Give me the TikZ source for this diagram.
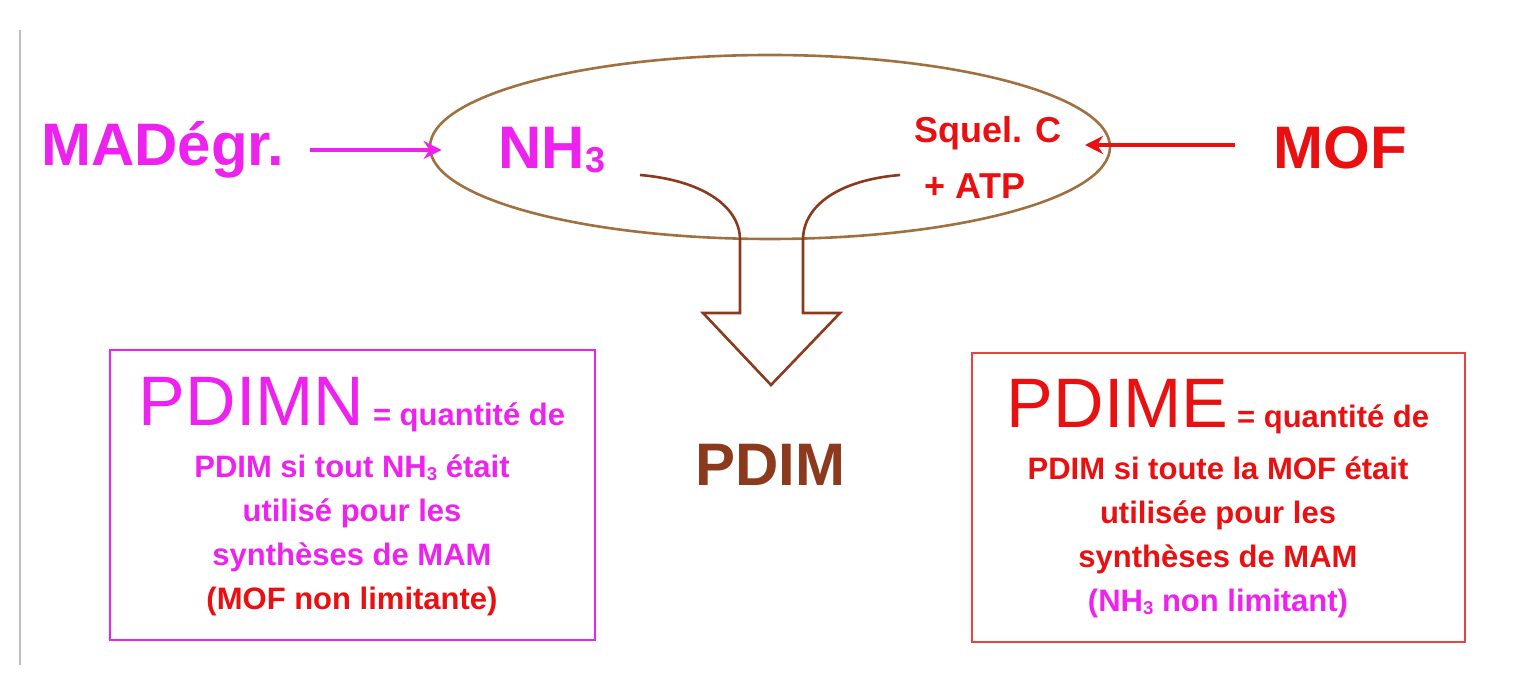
\documentclass[tikz,border=0pt]{standalone}
\usepackage{fontspec}
\setmainfont{Liberation Sans}
\usetikzlibrary{positioning,shapes.geometric,arrows.meta}
\definecolor{mag}{HTML}{EE22EE}
\definecolor{rouge}{HTML}{E81010}
\definecolor{brun}{HTML}{8B3A1E}
\definecolor{ovale}{HTML}{A07040}
\newcommand{\ind}[1]{\raisebox{-0.15ex}{\scalebox{0.6}{#1}}}
\tikzset{
  big/.style={font=\bfseries\fontsize{30}{33}\selectfont},
  mid/.style={font=\bfseries\fontsize{18}{20}\selectfont},
  boxtxt/.style={align=center,font=\bfseries\fontsize{15.5}{22}\selectfont},
  flow/.style={line width=1.6pt,-{Stealth[length=9pt,width=9pt]}}
}
\begin{document}
\begin{tikzpicture}[x=0.5pt,y=-0.5pt]
  \useasboundingbox (0,0) rectangle (1522,694);
  \draw[gray!50,line width=0.8pt] (20,30) -- (20,665);
  %ellipse
  \node[ellipse,draw=ovale,line width=1.3pt,minimum width=340pt,minimum height=92pt] (cell) at (770,147) {};
  \node[big,mag] (madeg) at (163,150) {MADégr.};
  \node[big,mag] (nh) at (552,150) {NH\ind{3}};
  \node[mid,rouge] (squel) at (988,133) {Squel. C};
  \node[mid,rouge] (atp) at (975,186) {+ ATP};
  \node[big,rouge] (mof) at (1340,148) {MOF};
  \draw[flow,mag] (madeg.east) ++(18,0) -- ([xshift=-25]nh.west);
  \draw[flow,rouge] (1235,145) -- (1085,145);
  %big arrow
  \draw[brun,line width=1.3pt,line join=miter]
    (640,175) .. controls (700,180) and (740,205) .. (740,240)
    -- (740,313) -- (703,313) -- (771,385) -- (840,313) -- (803,313) -- (803,240)
    .. controls (803,205) and (840,180) .. (900,175);
  \node[big,brun] (pdim) at (770,465) {PDIM};
  %boxes
  \draw[mag,line width=1pt] (110,350) rectangle (595,640);
  \node[boxtxt,mag] (pdimn) at (352,497) {{\fontsize{35}{38}\selectfont\mdseries PDIMN} = quantité de\\[4pt]
    PDIM si tout NH\ind{3} était\\ utilisé pour les\\ synthèses de MAM\\
    \textcolor{rouge}{(MOF non limitante)}};
  \draw[rouge!80,line width=1pt] (972,353) rectangle (1465,642);
  \node[boxtxt,rouge] (pdime) at (1218,499) {{\fontsize{35}{38}\selectfont\mdseries PDIME} = quantité de\\[4pt]
    PDIM si toute la MOF était\\ utilisée pour les\\ synthèses de MAM\\
    \textcolor{mag}{(NH\ind{3} non limitant)}};
\end{tikzpicture}
\end{document}
